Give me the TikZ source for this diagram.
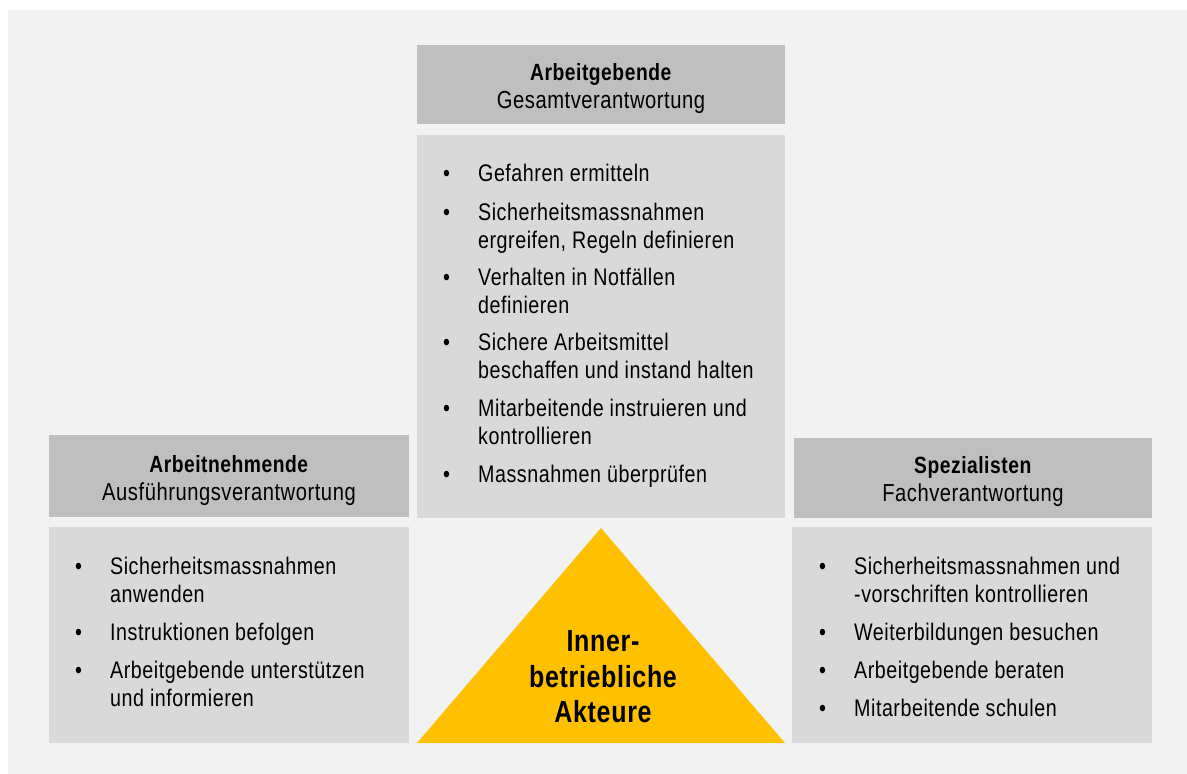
\documentclass[tikz,border=0pt]{standalone}
\usepackage{fontspec}
\setmainfont{Liberation Sans}[FakeStretch=0.82,LetterSpace=2.2]
\definecolor{headgray}{HTML}{BFBFBF}
\definecolor{bodygray}{HTML}{D9D9D9}
\definecolor{pagegray}{HTML}{F2F2F2}
\definecolor{actorgold}{HTML}{FFC000}
\newcommand{\itemfont}{\fontsize{24}{28}\selectfont}
% one bullet entry: bullet column plus text lines
\newcommand{\bul}[1]{\begin{tabular}{@{}p{35pt}@{}l@{}}\textbullet & #1\end{tabular}}
\newcommand{\hd}[2]{\begin{tabular}{@{}c@{}}{\fontsize{23.5}{28}\selectfont\textbf{#1}}\\{\fontsize{24.6}{28}\selectfont #2}\end{tabular}}
\begin{document}
\begin{tikzpicture}[x=1pt,y=-1pt,
  panel/.style={draw=none, inner sep=0pt, outer sep=0pt},
  headbox/.style={panel, fill=headgray},
  bodybox/.style={panel, fill=bodygray},
  headtext/.style={anchor=north, inner sep=0pt, font=\itemfont},
  entry/.style={anchor=north west, inner sep=0pt, font=\itemfont},
]
\useasboundingbox (0,0) rectangle (1187,774);
\fill[pagegray] (8,10) rectangle (1187,774);

% employer column (top centre)
\node[headbox, minimum width=368pt, minimum height=79pt] (tophead) at (601,84.5) {};
\node[bodybox, minimum width=368pt, minimum height=383pt] (topbody) at (601,326.5) {};
\node[headtext] (tophdtxt) at (601,61.1) {\hd{Arbeitgebende}{Gesamtverantwortung}};
\node[entry] (t1) at (443,162.1) {\bul{Gefahren ermitteln}};
\node[entry] (t2) at (443,201.1) {\bul{Sicherheitsmassnahmen\\ & ergreifen, Regeln definieren}};
\node[entry] (t3) at (443,266.1) {\bul{Verhalten in Notfällen\\ & definieren}};
\node[entry] (t4) at (443,331.1) {\bul{Sichere Arbeitsmittel\\ & beschaffen und instand halten}};
\node[entry] (t5) at (443,397.1) {\bul{Mitarbeitende instruieren und\\ & kontrollieren}};
\node[entry] (t6) at (443,463.1) {\bul{Massnahmen überprüfen}};

% employee column (left)
\node[headbox, minimum width=360pt, minimum height=82pt] (lefthead) at (229,476) {};
\node[bodybox, minimum width=360pt, minimum height=216pt] (leftbody) at (229,635) {};
\node[headtext] (lefthdtxt) at (229,453.1) {\hd{Arbeitnehmende}{Ausführungsverantwortung}};
\node[entry] (l1) at (75,555.1) {\bul{Sicherheitsmassnahmen\\ & anwenden}};
\node[entry] (l2) at (75,621.1) {\bul{Instruktionen befolgen}};
\node[entry] (l3) at (75,659.1) {\bul{Arbeitgebende unterstützen\\ & und informieren}};

% specialists column (right)
\node[headbox, minimum width=358pt, minimum height=80pt] (righthead) at (973,478) {};
\node[bodybox, minimum width=360pt, minimum height=216pt] (rightbody) at (972,635) {};
\node[headtext] (righthdtxt) at (973,454.1) {\hd{Spezialisten}{Fachverantwortung}};
\node[entry] (r1) at (819,555.1) {\bul{Sicherheitsmassnahmen und\\ & -vorschriften kontrollieren}};
\node[entry] (r2) at (819,621.1) {\bul{Weiterbildungen besuchen}};
\node[entry] (r3) at (819,659.1) {\bul{Arbeitgebende beraten}};
\node[entry] (r4) at (819,697.1) {\bul{Mitarbeitende schulen}};

% central triangle
\fill[actorgold] (417,743) -- (601,528) -- (785,743) -- cycle;
\node[anchor=north, inner sep=0pt, font=\fontsize{30.5}{35.5}\selectfont\bfseries] (actors) at (603,626.6)
  {\begin{tabular}{@{}c@{}}Inner-\\betriebliche\\Akteure\end{tabular}};
\end{tikzpicture}
\end{document}
